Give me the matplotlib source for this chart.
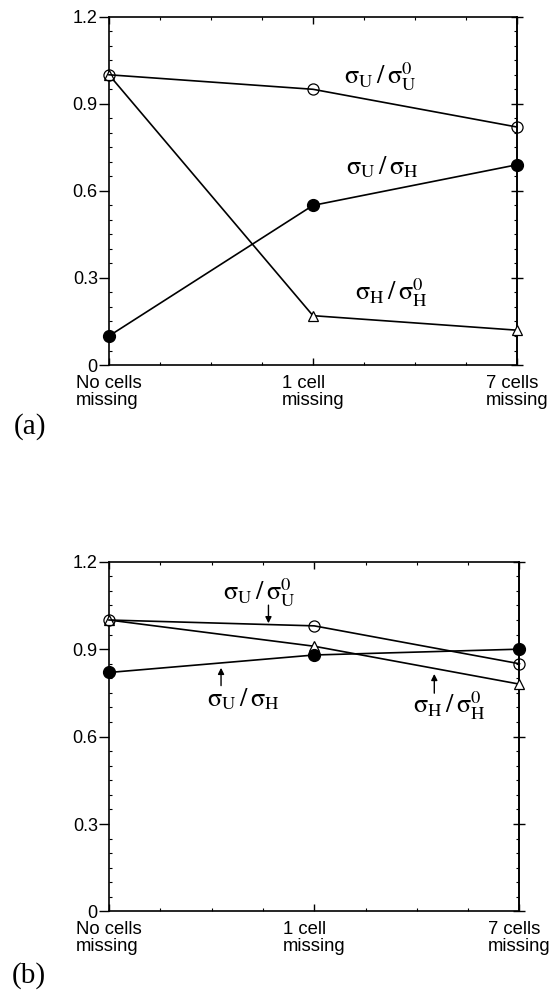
import matplotlib
matplotlib.use("Agg")
import matplotlib.pyplot as plt
from matplotlib.ticker import AutoMinorLocator, FixedLocator

# Cases along the x axis
categories = ["No cells\nmissing", "1 cell\nmissing", "7 cells\nmissing"]
y_ticks = [0, 0.3, 0.6, 0.9, 1.2]
y_tick_labels = ["0", "0.3", "0.6", "0.9", "1.2"]

# Panel (a)
a_u_u0 = [1.00, 0.95, 0.82]   # sigma_U / sigma_U^0
a_u_h = [0.10, 0.55, 0.69]    # sigma_U / sigma_H
a_h_h0 = [1.00, 0.17, 0.12]   # sigma_H / sigma_H^0

# Panel (b)
b_u_u0 = [1.00, 0.98, 0.85]
b_u_h = [0.82, 0.88, 0.90]
b_h_h0 = [1.00, 0.91, 0.78]

LBL_U_U0 = r"$\mathrm{\sigma_U\,/\,\sigma_U^0}$"
LBL_U_H = r"$\mathrm{\sigma_U\,/\,\sigma_H}$"
LBL_H_H0 = r"$\mathrm{\sigma_H\,/\,\sigma_H^0}$"

plt.rcParams["mathtext.fontset"] = "stix"
plt.rcParams["font.family"] = ["Liberation Sans", "DejaVu Sans"]

fig = plt.figure(figsize=(5.56, 9.90), dpi=100)
ax_a = fig.add_axes([0.196, 0.6313, 0.7338, 0.3518])
ax_b = fig.add_axes([0.196, 0.0793, 0.7383, 0.3533])

x = list(range(len(categories)))
LW = 1.2


def style_axes(ax):
    ax.set_xlim(0, 2)
    ax.set_ylim(0, 1.2)
    for s in ax.spines.values():
        s.set_linewidth(1.2)
    ax.xaxis.set_major_locator(FixedLocator(x))
    ax.set_xticklabels(categories, fontsize=13.3, multialignment="left",
                       linespacing=1.0)
    ax.xaxis.set_minor_locator(AutoMinorLocator(4))
    ax.tick_params(axis="x", which="major", direction="in", length=5,
                   width=1, top=True, pad=7)
    ax.tick_params(axis="x", which="minor", direction="in", length=2.5,
                   width=0.8, top=True)
    ax.set_yticks(y_ticks)
    ax.set_yticklabels(y_tick_labels, fontsize=13)
    ax.yaxis.set_minor_locator(AutoMinorLocator(6))
    ax.tick_params(axis="y", which="major", direction="out", length=7,
                   width=1, pad=1, right=False)
    ax.tick_params(axis="y", which="minor", direction="in", length=2.5,
                   width=0.8, right=False)
    # right-hand axis: crossing major ticks, inward minor ticks
    sec = ax.secondary_yaxis("right")
    sec.set_yticks(y_ticks)
    sec.yaxis.set_minor_locator(AutoMinorLocator(6))
    sec.tick_params(which="major", direction="inout", length=8.5, width=1,
                    labelright=False)
    sec.tick_params(which="minor", direction="in", length=2.5, width=0.8)
    sec.spines["right"].set_linewidth(1.2)


def draw_series(ax, u_u0, u_h, h_h0):
    kw = dict(color="black", lw=LW, clip_on=False, zorder=3)
    ax.plot(x, h_h0, marker="^", ms=7, mfc="white", mec="black", mew=0.9, **kw)
    ax.plot(x, u_u0, marker="o", ms=8, mfc="none", mec="black", mew=0.9, **kw)
    ax.plot(x, u_h, marker="o", ms=8.5, mfc="black", mec="black", **kw)


style_axes(ax_a)
style_axes(ax_b)
draw_series(ax_a, a_u_u0, a_u_h, a_h_h0)
draw_series(ax_b, b_u_u0, b_u_h, b_h_h0)

FS = 19
ax_a.text(1.33, 0.970, LBL_U_U0, fontsize=FS, ha="center", va="baseline")
ax_a.text(1.34, 0.658, LBL_U_H, fontsize=FS, ha="center", va="baseline")
ax_a.text(1.386, 0.224, LBL_H_H0, fontsize=FS, ha="center", va="baseline")

ax_b.text(0.731, 1.069, LBL_U_U0, fontsize=FS, ha="center", va="baseline")
ax_b.text(0.655, 0.703, LBL_U_H, fontsize=FS, ha="center", va="baseline")
ax_b.text(1.659, 0.682, LBL_H_H0, fontsize=FS, ha="center", va="baseline")

arrow = dict(arrowstyle="-|>", color="black", lw=1.0, mutation_scale=9,
             shrinkA=0, shrinkB=0)
ax_b.annotate("", xy=(0.777, 0.989), xytext=(0.777, 1.051), arrowprops=arrow)
ax_b.annotate("", xy=(0.546, 0.836), xytext=(0.546, 0.775), arrowprops=arrow)
ax_b.annotate("", xy=(1.585, 0.815), xytext=(1.585, 0.749), arrowprops=arrow)

fig.text(0.024, 1 - 427 / 990, "(a)", fontsize=21, family="Liberation Serif",
         ha="left", va="center")
fig.text(0.022, 1 - 976 / 990, "(b)", fontsize=21, family="Liberation Serif",
         ha="left", va="center")

fig.savefig("out.png", dpi=100)
